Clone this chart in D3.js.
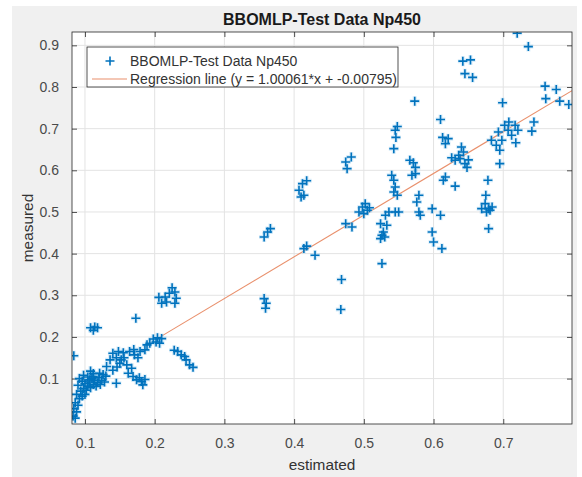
<!DOCTYPE html>
<html>
<head>
<meta charset="utf-8">
<script src="https://cdn.jsdelivr.net/npm/d3@7"></script>
<style>
  html, body { margin: 0; padding: 0; background: #ffffff; }
  svg { display: block; font-family: "Liberation Sans", Arial, sans-serif; }
</style>
</head>
<body>
<svg id="chart" width="582" height="477"></svg>
<script>
// Test-set predictions: estimated vs measured values
const estimated = [
  0.092,0.096,0.100,0.104,0.098,0.094,0.102,0.108,0.112,0.106,0.114,0.118,0.110,0.120,0.124,0.116,0.104,0.098,0.090,0.088,
  0.092,0.086,0.090,0.084,0.088,0.083,0.086,0.126,0.130,0.112,0.108,0.100,0.096,0.122,0.128,
  0.131,0.136,0.140,0.148,0.155,0.164,0.171,0.179,0.186,0.189,0.150,0.152,0.145,0.160,0.167,0.162,0.169,0.174,0.181,0.183,
  0.178,0.186,0.145,0.121,0.112,0.107,0.140,0.146,0.156,0.170,0.176,
  0.193,0.202,0.207,0.198,0.204,0.210,
  0.108,0.114,0.118,0.112,0.084,0.173,
  0.221,0.229,0.217,0.229,0.210,0.231,0.225,0.215,0.206,
  0.233,0.238,0.245,0.250,0.255,0.243,0.228,
  0.357,0.360,0.359,0.357,0.362,0.366,
  0.412,0.407,0.410,0.414,0.418,0.414,0.430,0.418,
  0.474,0.482,0.476,0.474,0.483,0.468,0.467,
  0.498,0.505,0.500,0.493,0.502,0.508,0.536,0.545,0.550,0.531,0.524,0.533,
  0.526,0.530,0.524,0.528,0.526,
  0.540,0.543,0.545,0.543,0.548,0.545,0.546,0.543,0.548,0.573,
  0.571,0.574,0.569,0.574,0.566,0.579,0.576,0.579,0.581,0.598,0.610,0.598,0.600,0.612,
  0.610,0.613,0.621,0.617,0.617,0.614,0.631,
  0.640,0.631,0.638,0.645,0.648,0.643,0.636,0.626,0.650,
  0.642,0.653,0.645,0.656,
  0.678,0.675,0.674,0.669,0.679,0.676,0.681,0.679,0.684,
  0.699,0.702,0.693,0.707,0.712,0.698,0.690,0.717,0.721,0.695,0.718,0.683,0.695,0.708,
  0.744,0.741,0.720,0.736,0.760,0.776,0.761,0.781,0.794
];
const measured = [
  0.100,0.094,0.088,0.082,0.076,0.070,0.072,0.078,0.086,0.092,0.096,0.090,0.100,0.102,0.096,0.082,0.104,0.108,0.084,0.062,
  0.052,0.042,0.036,0.028,0.020,0.010,0.005,0.110,0.106,0.112,0.118,0.062,0.058,0.086,0.092,
  0.129,0.145,0.161,0.165,0.162,0.165,0.157,0.165,0.169,0.181,0.137,0.145,0.150,0.133,0.125,0.113,0.105,0.097,0.093,0.085,
  0.102,0.098,0.089,0.113,0.105,0.097,0.120,0.128,0.150,0.170,0.150,
  0.185,0.188,0.185,0.195,0.198,0.196,
  0.222,0.224,0.222,0.216,0.155,0.245,
  0.305,0.308,0.284,0.281,0.281,0.293,0.318,0.296,0.295,
  0.165,0.157,0.145,0.133,0.127,0.153,0.168,
  0.292,0.281,0.269,0.440,0.452,0.460,
  0.568,0.552,0.536,0.540,0.575,0.412,0.396,0.418,
  0.620,0.632,0.604,0.472,0.464,0.338,0.266,
  0.512,0.504,0.496,0.500,0.520,0.510,0.500,0.500,0.500,0.492,0.472,0.468,
  0.444,0.440,0.436,0.452,0.376,
  0.588,0.576,0.560,0.548,0.540,0.696,0.679,0.652,0.705,0.766,
  0.618,0.607,0.588,0.592,0.624,0.540,0.524,0.500,0.492,0.508,0.492,0.452,0.428,0.412,
  0.722,0.679,0.676,0.664,0.584,0.576,0.562,
  0.656,0.624,0.628,0.616,0.607,0.644,0.636,0.630,0.625,
  0.862,0.865,0.832,0.823,
  0.576,0.540,0.520,0.508,0.508,0.500,0.504,0.460,0.512,
  0.762,0.708,0.692,0.696,0.684,0.672,0.660,0.708,0.696,0.648,0.666,0.672,0.616,0.716,
  0.716,0.694,0.929,0.897,0.802,0.794,0.772,0.766,0.758
];

// Fitted regression line y = slope*x + intercept, drawn over lineRange
const slope = 1.00061;
const intercept = -0.00795;
const lineRange = [0.205, 0.7986];

const xTicks = [0.1, 0.2, 0.3, 0.4, 0.5, 0.6, 0.7];
const yTicks = [0.1, 0.2, 0.3, 0.4, 0.5, 0.6, 0.7, 0.8, 0.9];
const xDomain = [0.0814, 0.7986];
const yDomain = [-0.009, 0.932];

const titleText = "BBOMLP-Test Data Np450";
const seriesName = "BBOMLP-Test Data Np450";
const lineName = "Regression line (y = " + slope + "*x + " + intercept + ")";
const xLabel = "estimated";
const yLabel = "measured";

const svg = d3.select("#chart");
const W = 582, H = 477;
const plot = { left: 72, right: 572, top: 32, bottom: 424 };
const axisColor = "#262626";
const blue = "#0072bd";
const orange = "#e9906c";

// Figure background
svg.append("rect").attr("x", 12).attr("y", 6).attr("width", 565).attr("height", H - 6)
  .attr("fill", "#f0f0f0");

const x = d3.scaleLinear().domain(xDomain).range([plot.left, plot.right]);
const y = d3.scaleLinear().domain(yDomain).range([plot.bottom, plot.top]);

// Axes background
svg.append("rect").attr("x", plot.left).attr("y", plot.top)
  .attr("width", plot.right - plot.left).attr("height", plot.bottom - plot.top)
  .attr("fill", "#ffffff");

svg.append("clipPath").attr("id", "clip").append("rect")
  .attr("x", plot.left).attr("y", plot.top)
  .attr("width", plot.right - plot.left).attr("height", plot.bottom - plot.top);

// Grid lines
const grid = svg.append("g").attr("stroke", "#e3e3e3").attr("stroke-width", 1);
grid.selectAll("line.gx").data(xTicks).join("line").attr("class", "gx")
  .attr("x1", d => x(d)).attr("x2", d => x(d)).attr("y1", plot.top).attr("y2", plot.bottom);
grid.selectAll("line.gy").data(yTicks).join("line").attr("class", "gy")
  .attr("y1", d => y(d)).attr("y2", d => y(d)).attr("x1", plot.left).attr("x2", plot.right);

// Axes with inward ticks on all four sides
const tickFmt = d3.format(".1f");
const axStyle = g => {
  g.select(".domain").remove();
  g.selectAll(".tick line").attr("stroke", axisColor).attr("stroke-width", 0.8);
  g.selectAll(".tick text").attr("fill", "#4a4a4a").attr("font-size", 14)
    .attr("font-family", "Liberation Sans, Arial, sans-serif");
};
svg.append("g").attr("transform", `translate(0,${plot.bottom})`)
  .call(d3.axisBottom(x).tickValues(xTicks).tickFormat(tickFmt).tickSizeInner(-5).tickSizeOuter(0).tickPadding(14))
  .call(axStyle);
svg.append("g").attr("transform", `translate(0,${plot.top})`)
  .call(d3.axisTop(x).tickValues(xTicks).tickFormat("").tickSizeInner(-5).tickSizeOuter(0))
  .call(axStyle);
svg.append("g").attr("transform", `translate(${plot.left},0)`)
  .call(d3.axisLeft(y).tickValues(yTicks).tickFormat(tickFmt).tickSizeInner(-5).tickSizeOuter(0).tickPadding(13))
  .call(axStyle);
svg.append("g").attr("transform", `translate(${plot.right},0)`)
  .call(d3.axisRight(y).tickValues(yTicks).tickFormat("").tickSizeInner(-5).tickSizeOuter(0))
  .call(axStyle);

// Regression line
const lineData = lineRange.map(v => [v, slope * v + intercept]);
svg.append("path").datum(lineData)
  .attr("clip-path", "url(#clip)")
  .attr("d", d3.line().x(d => x(d[0])).y(d => y(d[1])))
  .attr("fill", "none").attr("stroke", orange).attr("stroke-width", 1.1);

// Scatter of '+' markers
const pts = estimated.map((e, i) => [e, measured[i]]);
const plus = (cx, cy, r) => `M${cx - r},${cy}H${cx + r}M${cx},${cy - r}V${cy + r}`;
const marks = svg.append("g").attr("clip-path", "url(#clip)");
marks.selectAll("path.halo").data(pts).join("path").attr("class", "halo")
  .attr("d", d => plus(x(d[0]), y(d[1]), 5))
  .attr("stroke", "#8cc8ee").attr("stroke-width", 4).attr("stroke-opacity", 0.35).attr("fill", "none");
marks.selectAll("path.pt").data(pts).join("path").attr("class", "pt")
  .attr("d", d => plus(x(d[0]), y(d[1]), 4.5))
  .attr("stroke", blue).attr("stroke-width", 1.6).attr("fill", "none");

// Axes box
svg.append("rect").attr("x", plot.left).attr("y", plot.top)
  .attr("width", plot.right - plot.left).attr("height", plot.bottom - plot.top)
  .attr("fill", "none").attr("stroke", axisColor).attr("stroke-width", 0.8);

// Title and axis labels
svg.append("text").attr("x", (plot.left + plot.right) / 2).attr("y", 25)
  .attr("text-anchor", "middle").attr("font-size", 16).attr("font-weight", "bold")
  .attr("fill", "#1a1a1a").text(titleText);
svg.append("text").attr("x", (plot.left + plot.right) / 2).attr("y", 470)
  .attr("text-anchor", "middle").attr("font-size", 15.4).attr("fill", "#333").text(xLabel);
svg.append("text").attr("transform", `translate(33,${(plot.top + plot.bottom) / 2}) rotate(-90)`)
  .attr("text-anchor", "middle").attr("font-size", 15.4).attr("fill", "#333").text(yLabel);

// Legend
const lg = svg.append("g");
lg.append("rect").attr("x", 87).attr("y", 47).attr("width", 311).attr("height", 40)
  .attr("fill", "#ffffff").attr("stroke", axisColor).attr("stroke-width", 0.8);
lg.append("path").attr("d", plus(110, 61, 4.5)).attr("stroke", blue).attr("stroke-width", 1.6);
lg.append("line").attr("x1", 92).attr("x2", 127).attr("y1", 79).attr("y2", 79)
  .attr("stroke", orange).attr("stroke-width", 1.1);
lg.append("text").attr("x", 130).attr("y", 66).attr("font-size", 14).attr("fill", "#333").text(seriesName);
lg.append("text").attr("x", 130).attr("y", 84).attr("font-size", 14).attr("fill", "#333").text(lineName);
</script>
</body>
</html>
